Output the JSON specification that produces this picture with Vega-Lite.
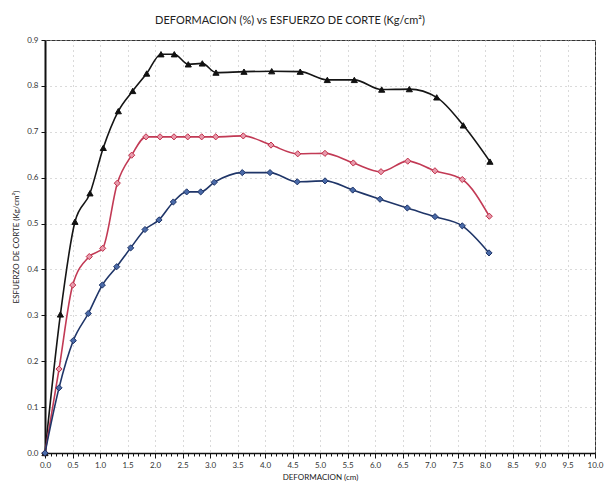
{
  "$schema": "https://vega.github.io/schema/vega-lite/v6.json",
  "width": 550,
  "height": 413,
  "autosize": {"type": "none"},
  "padding": {"left": 45, "top": 40, "right": 15, "bottom": 37},
  "background": "white",
  "title": {
    "text": "DEFORMACION (%) vs ESFUERZO DE CORTE (Kg/cm²)",
    "fontSize": 11,
    "fontWeight": "normal",
    "font": "Lato",
    "color": "#222",
    "offset": 10,
    "dx": -30
  },
  "config": {
    "font": "Lato",
    "view": {"stroke": "#333", "strokeWidth": 1},
    "axis": {
      "labelFont": "Lato",
      "titleFont": "Lato",
      "labelFontSize": 8,
      "titleFontSize": 8,
      "titleFontWeight": "normal",
      "labelColor": "#333",
      "titleColor": "#222",
      "gridColor": "#b5b5b5",
      "gridDash": [1, 4],
      "gridWidth": 1,
      "domainColor": "#111",
      "tickColor": "#111"
    }
  },
  "data": {
    "values": [
      {"s": "A", "x": 0, "y": 0},
      {"s": "A", "x": 0.28, "y": 0.302},
      {"s": "A", "x": 0.545, "y": 0.504},
      {"s": "A", "x": 0.818, "y": 0.566},
      {"s": "A", "x": 1.06, "y": 0.665},
      {"s": "A", "x": 1.333, "y": 0.745},
      {"s": "A", "x": 1.595, "y": 0.789},
      {"s": "A", "x": 1.849, "y": 0.827},
      {"s": "A", "x": 2.109, "y": 0.869},
      {"s": "A", "x": 2.351, "y": 0.869},
      {"s": "A", "x": 2.605, "y": 0.847},
      {"s": "A", "x": 2.86, "y": 0.849},
      {"s": "A", "x": 3.109, "y": 0.829},
      {"s": "A", "x": 3.618, "y": 0.831},
      {"s": "A", "x": 4.122, "y": 0.832},
      {"s": "A", "x": 4.64, "y": 0.831},
      {"s": "A", "x": 5.133, "y": 0.813},
      {"s": "A", "x": 5.624, "y": 0.813},
      {"s": "A", "x": 6.122, "y": 0.792},
      {"s": "A", "x": 6.624, "y": 0.793},
      {"s": "A", "x": 7.122, "y": 0.775},
      {"s": "A", "x": 7.605, "y": 0.714},
      {"s": "A", "x": 8.09, "y": 0.635},
      {"s": "B", "x": 0, "y": 0},
      {"s": "B", "x": 0.255, "y": 0.183},
      {"s": "B", "x": 0.504, "y": 0.366},
      {"s": "B", "x": 0.805, "y": 0.428},
      {"s": "B", "x": 1.049, "y": 0.446},
      {"s": "B", "x": 1.315, "y": 0.588},
      {"s": "B", "x": 1.576, "y": 0.649},
      {"s": "B", "x": 1.836, "y": 0.689},
      {"s": "B", "x": 2.091, "y": 0.689},
      {"s": "B", "x": 2.345, "y": 0.689},
      {"s": "B", "x": 2.595, "y": 0.689},
      {"s": "B", "x": 2.849, "y": 0.689},
      {"s": "B", "x": 3.104, "y": 0.689},
      {"s": "B", "x": 3.605, "y": 0.691},
      {"s": "B", "x": 4.109, "y": 0.671},
      {"s": "B", "x": 4.595, "y": 0.652},
      {"s": "B", "x": 5.09, "y": 0.653},
      {"s": "B", "x": 5.605, "y": 0.632},
      {"s": "B", "x": 6.109, "y": 0.613},
      {"s": "B", "x": 6.595, "y": 0.636},
      {"s": "B", "x": 7.09, "y": 0.615},
      {"s": "B", "x": 7.587, "y": 0.596},
      {"s": "B", "x": 8.078, "y": 0.516},
      {"s": "C", "x": 0, "y": 0},
      {"s": "C", "x": 0.255, "y": 0.142},
      {"s": "C", "x": 0.515, "y": 0.245},
      {"s": "C", "x": 0.787, "y": 0.304},
      {"s": "C", "x": 1.042, "y": 0.366},
      {"s": "C", "x": 1.304, "y": 0.406},
      {"s": "C", "x": 1.558, "y": 0.447},
      {"s": "C", "x": 1.818, "y": 0.487},
      {"s": "C", "x": 2.073, "y": 0.508},
      {"s": "C", "x": 2.333, "y": 0.547},
      {"s": "C", "x": 2.576, "y": 0.569},
      {"s": "C", "x": 2.831, "y": 0.569},
      {"s": "C", "x": 3.078, "y": 0.59},
      {"s": "C", "x": 3.587, "y": 0.611},
      {"s": "C", "x": 4.091, "y": 0.611},
      {"s": "C", "x": 4.587, "y": 0.591},
      {"s": "C", "x": 5.091, "y": 0.593},
      {"s": "C", "x": 5.595, "y": 0.573},
      {"s": "C", "x": 6.091, "y": 0.553},
      {"s": "C", "x": 6.587, "y": 0.534},
      {"s": "C", "x": 7.091, "y": 0.515},
      {"s": "C", "x": 7.587, "y": 0.495},
      {"s": "C", "x": 8.073, "y": 0.436}
    ]
  },
  "encoding": {
    "x": {
      "field": "x",
      "type": "quantitative",
      "scale": {"domain": [0, 10], "nice": false, "zero": true},
      "axis": {
        "title": "DEFORMACION (cm)",
        "values": [0,0.1,0.2,0.3,0.4,0.5,0.6,0.7,0.8,0.9,1,1.1,1.2,1.3,1.4,1.5,1.6,1.7,1.8,1.9,2,2.1,2.2,2.3,2.4,2.5,2.6,2.7,2.8,2.9,3,3.1,3.2,3.3,3.4,3.5,3.6,3.7,3.8,3.9,4,4.1,4.2,4.3,4.4,4.5,4.6,4.7,4.8,4.9,5,5.1,5.2,5.3,5.4,5.5,5.6,5.7,5.8,5.9,6,6.1,6.2,6.3,6.4,6.5,6.6,6.7,6.8,6.9,7,7.1,7.2,7.3,7.4,7.5,7.6,7.7,7.8,7.9,8,8.1,8.2,8.3,8.4,8.5,8.6,8.7,8.8,8.9,9,9.1,9.2,9.3,9.4,9.5,9.6,9.7,9.8,9.9,10],
        "labelExpr": "abs(datum.value*2 - round(datum.value*2)) < 0.001 ? format(datum.value, '.1f') : ''",
        "labelFlush": false,
        "labelOverlap": false,
        "gridOpacity": {"condition": {"test": "abs(datum.value*2 - round(datum.value*2)) < 0.001", "value": 1}, "value": 0},
        "tickSize": {"condition": {"test": "abs(datum.value*2 - round(datum.value*2)) < 0.001", "value": 5}, "value": 3},
        "tickWidth": 1,
        "domainWidth": 1.5,
        "labelPadding": 3,
        "titlePadding": 4
      }
    },
    "y": {
      "field": "y",
      "type": "quantitative",
      "scale": {"domain": [0, 0.9], "nice": false},
      "axis": {
        "title": "ESFUERZO DE CORTE (Kg/cm²)",
        "values": [0, 0.1, 0.2, 0.3, 0.4, 0.5, 0.6, 0.7, 0.8, 0.9],
        "format": ".1f",
        "tickSize": 4,
        "domainWidth": 2,
        "labelPadding": 3,
        "titlePadding": 6
      }
    },
    "color": {
      "field": "s",
      "type": "nominal",
      "scale": {"domain": ["A", "B", "C"], "range": ["#151515", "#c23a55", "#1f3568"]},
      "legend": null
    }
  },
  "layer": [
    {
      "mark": {"type": "line", "interpolate": "monotone", "strokeWidth": 1.6}
    },
    {
      "mark": {"type": "point", "filled": true, "size": 38, "opacity": 1},
      "encoding": {
        "shape": {
          "field": "s",
          "type": "nominal",
          "scale": {"domain": ["A", "B", "C"], "range": ["triangle-up", "diamond", "diamond"]},
          "legend": null
        },
        "fill": {
          "field": "s",
          "type": "nominal",
          "scale": {"domain": ["A", "B", "C"], "range": ["#111111", "#e89aac", "#4a6aa8"]},
          "legend": null
        },
        "stroke": {
          "field": "s",
          "type": "nominal",
          "scale": {"domain": ["A", "B", "C"], "range": ["#111111", "#c0304a", "#1f3568"]},
          "legend": null
        },
        "strokeWidth": {"value": 1}
      }
    }
  ]
}
